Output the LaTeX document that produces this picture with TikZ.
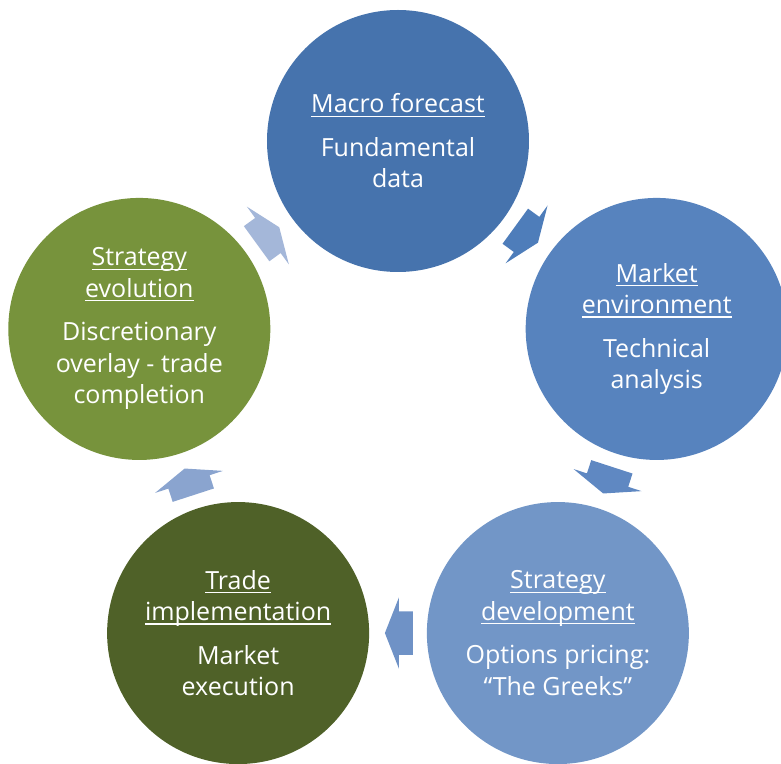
\documentclass[tikz,border=0pt]{standalone}
\usepackage{fontspec}
\setmainfont{Open Sans}
\usetikzlibrary{shapes.arrows}

\definecolor{macroblue}{HTML}{4673AD}
\definecolor{marketblue}{HTML}{5783BE}
\definecolor{devblue}{HTML}{7296C7}
\definecolor{tradegreen}{HTML}{4F6128}
\definecolor{evolgreen}{HTML}{77933C}
\definecolor{arrowA}{HTML}{A4B7D9}
\definecolor{arrowB}{HTML}{4E7DBA}
\definecolor{arrowC}{HTML}{5F88C2}
\definecolor{arrowD}{HTML}{6F92C6}
\definecolor{arrowE}{HTML}{8AA4CF}

\newsavebox{\ulbox}
\newcommand{\ulword}[1]{\sbox{\ulbox}{#1}\rlap{\rule[-4pt]{\wd\ulbox}{1.2pt}}\usebox{\ulbox}}

\begin{document}
\begin{tikzpicture}
[
	stage/.style={circle,minimum size=262pt,inner sep=0pt,text=white,align=center,
		font=\fontsize{25}{31.5}\selectfont},
	cyclearrow/.style={single arrow,inner xsep=0pt,inner ysep=21.5pt,minimum height=28pt,
		single arrow head extend=14pt,single arrow tip angle=137,sloped,allow upside down,pos=0.41}
]

\useasboundingbox (-398pt,-350pt) rectangle (383pt,413pt);

\node[stage,fill=macroblue] (macro) at (90:272pt) {\ulword{Macro forecast}\\[12pt] Fundamental\\ data};
\node[stage,fill=marketblue] (market) at (18:272pt) {\ulword{Market}\\ \ulword{environment}\\[12pt] Technical\\ analysis};
\node[stage,fill=devblue] (dev) at (-54:272pt) {\ulword{Strategy}\\ \ulword{development}\\[12pt] Options pricing:\\ “The Greeks”};
\node[stage,fill=tradegreen] (trade) at (-126:272pt) {\ulword{Trade}\\ \ulword{implementation}\\[12pt] Market\\ execution};
\node[stage,fill=evolgreen] (evol) at (162:272pt) {\ulword{Strategy}\\ \ulword{evolution}\\[12pt] Discretionary\\ overlay - trade\\ completion};

\path (evol) -- node[cyclearrow,fill=arrowA] {} (macro);
\path (macro) -- node[cyclearrow,fill=arrowB] {} (market);
\path (market) -- node[cyclearrow,fill=arrowC] {} (dev);
\path (dev) -- node[cyclearrow,fill=arrowD] {} (trade);
\path (trade) -- node[cyclearrow,fill=arrowE] {} (evol);

\end{tikzpicture}
\end{document}
